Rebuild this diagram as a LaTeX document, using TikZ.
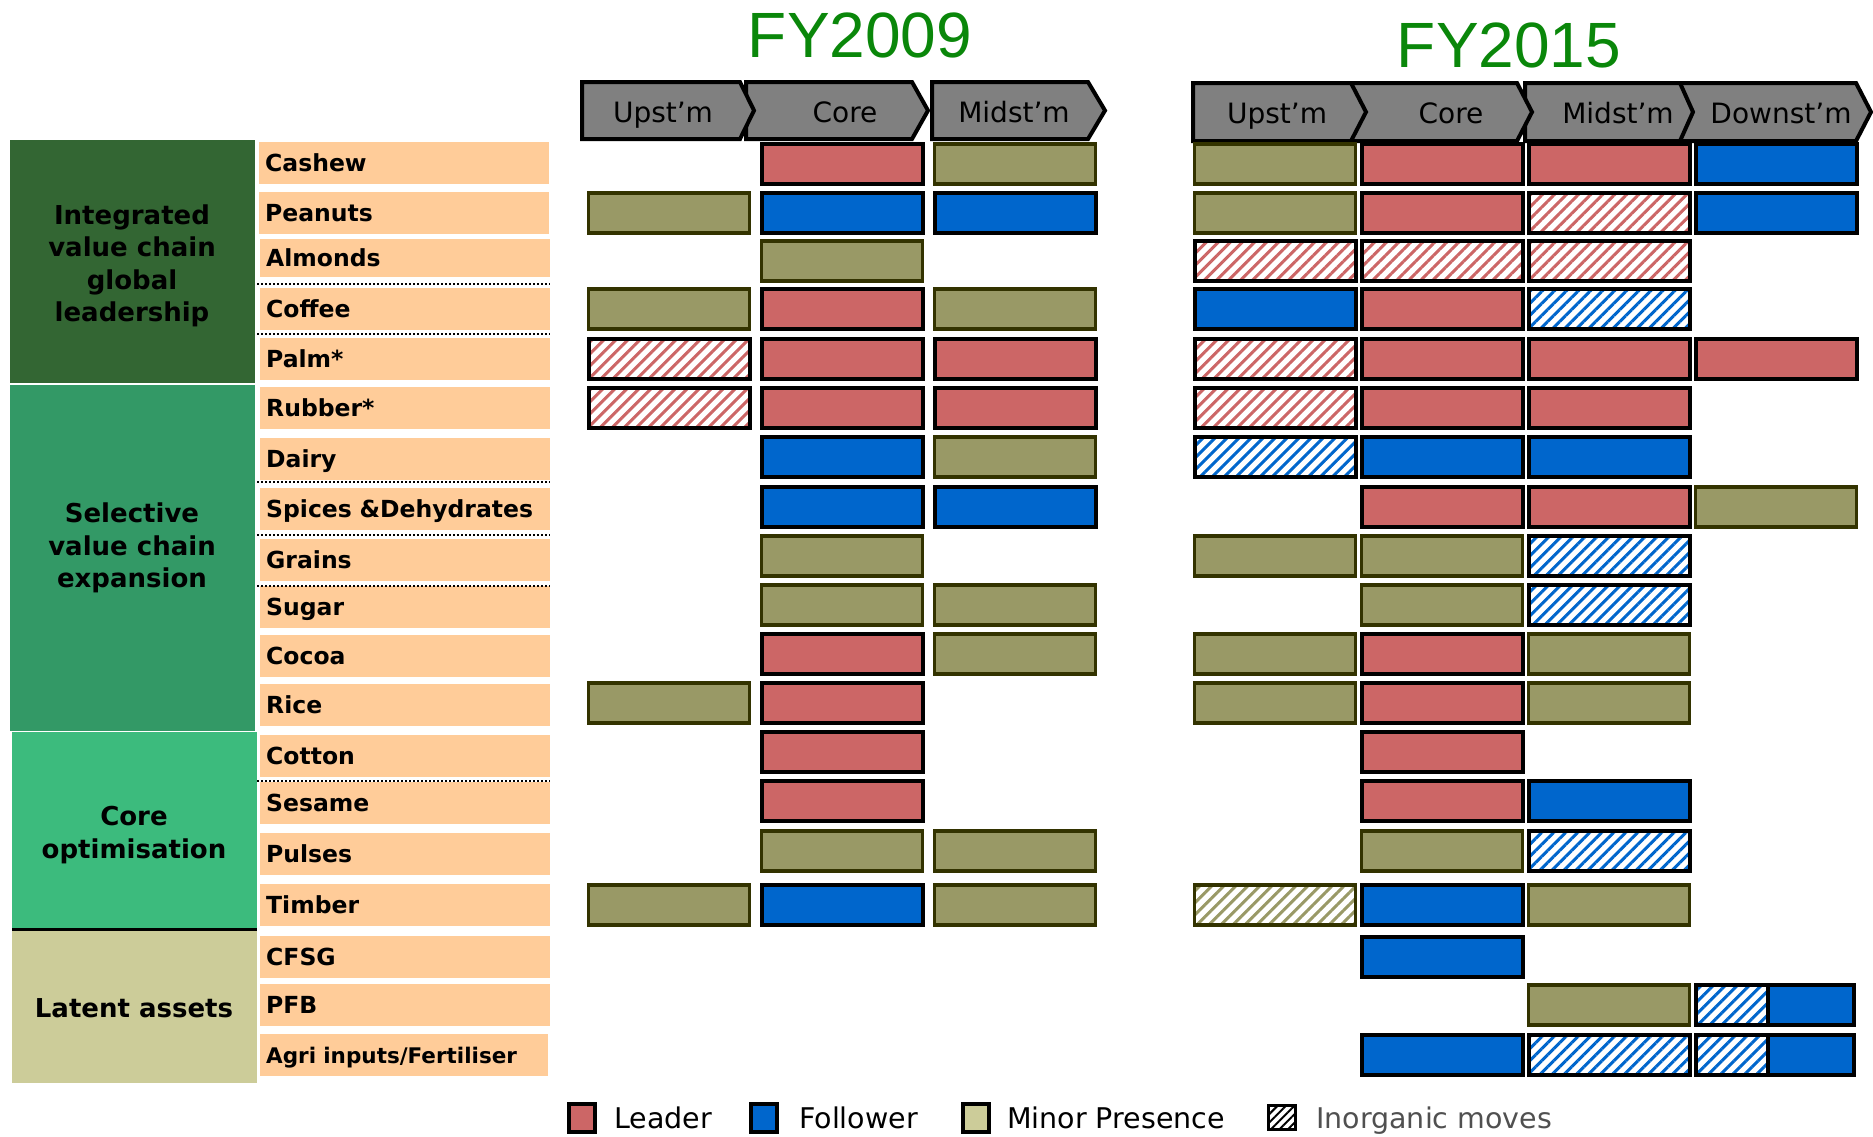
\documentclass[tikz,border=0pt]{standalone}
\usepackage{fontspec}
\setmainfont{DejaVu Sans}
\newfontfamily\arialfont{Liberation Sans}
\usepackage{tikz}
\usetikzlibrary{patterns.meta}

\definecolor{grpone}{HTML}{336633}
\definecolor{grptwo}{HTML}{339966}
\definecolor{grpthree}{HTML}{3CBB7D}
\definecolor{grpfour}{HTML}{CCCC99}
\definecolor{peach}{HTML}{FFCC99}
\definecolor{leadred}{HTML}{CC6666}
\definecolor{follblue}{HTML}{0066CC}
\definecolor{minorol}{HTML}{999966}
\definecolor{minordk}{HTML}{333300}
\definecolor{chevgray}{HTML}{808080}
\definecolor{fygreen}{HTML}{0A870A}
\definecolor{leggray}{HTML}{505050}

\begin{document}
\begin{tikzpicture}[x=1pt, y=-1pt,
	barbox/.style={rectangle, draw=black, line width=4pt, minimum width=161pt, minimum height=40pt, inner sep=0pt},
	leader/.style={barbox, fill=leadred},
	follower/.style={barbox, fill=follblue},
	minor/.style={barbox, fill=minorol, draw=minordk, line width=3.5pt},
	leaderhatch/.style={barbox, pattern={Lines[angle=45,distance=8.5pt,line width=3pt]}, pattern color=leadred},
	followerhatch/.style={barbox, pattern={Lines[angle=45,distance=8.5pt,line width=3pt]}, pattern color=follblue},
	minorhatch/.style={barbox, draw=minordk, line width=3.5pt, pattern={Lines[angle=45,distance=8.5pt,line width=3pt]}, pattern color=minorol},
	cropbox/.style={rectangle, fill=peach, anchor=west, minimum height=42pt, text width=278pt, inner xsep=6pt, inner ysep=0pt, text height=18pt, text depth=1pt, align=left, font=\bfseries\fontsize{23.5}{28}\selectfont},
	grouptext/.style={font=\bfseries\fontsize{26}{32.5}\selectfont, align=center, inner sep=0pt},
	chevron/.style={draw=black, line width=4pt, fill=chevgray, line join=miter},
	chevtext/.style={font=\fontsize{28}{30}\selectfont, anchor=base, inner sep=0pt},
	yeartext/.style={font=\arialfont\fontsize{64}{70}\selectfont, text=fygreen, anchor=base, inner sep=0pt},
	legbox/.style={rectangle, line width=4pt, draw=black, minimum width=26pt, minimum height=28pt, inner sep=0pt},
	legtext/.style={font=\fontsize{28.5}{32}\selectfont, anchor=base west, inner sep=0pt},
	sepline/.style={dotted, line width=2pt}
	]
	\useasboundingbox (0,0) rectangle (1873,1136);

	\fill [grpone] (10,140) rectangle (255,383);
	\fill [grptwo] (10,385) rectangle (255,731);
	\fill [grpthree] (12,732) rectangle (257,928);
	\fill [grpfour] (12,931) rectangle (257,1083);
	\draw [line width=3pt] (12,929.5) -- (257,929.5);

	\node [grouptext] (integrated) at (132,266) {Integrated\\value chain\\global\\leadership};
	\node [grouptext] (selective) at (132,548) {Selective\\value chain\\expansion};
	\node [grouptext] (coreopt) at (134,835) {Core\\optimisation};
	\node [grouptext, anchor=base] (latent) at (134,1017) {Latent assets};

	\node [cropbox] (cashew) at (259,163) {Cashew};
	\node [cropbox] (peanuts) at (259,212.5) {Peanuts};
	\node [cropbox, minimum height=38pt] (almonds) at (260,258) {Almonds};
	\node [cropbox] (coffee) at (260,308.5) {Coffee};
	\node [cropbox] (palm) at (260,358.5) {Palm*};
	\node [cropbox] (rubber) at (260,407.5) {Rubber*};
	\node [cropbox] (dairy) at (260,459) {Dairy};
	\node [cropbox] (spices) at (260,508.5) {Spices \&Dehydrates};
	\node [cropbox] (grains) at (260,560) {Grains};
	\node [cropbox] (sugar) at (260,607) {Sugar};
	\node [cropbox] (cocoa) at (260,656) {Cocoa};
	\node [cropbox] (rice) at (260,705) {Rice};
	\node [cropbox] (cotton) at (260,755.5) {Cotton};
	\node [cropbox] (sesame) at (260,803) {Sesame};
	\node [cropbox] (pulses) at (260,853.5) {Pulses};
	\node [cropbox] (timber) at (260,905) {Timber};
	\node [cropbox] (cfsg) at (260,956.5) {CFSG};
	\node [cropbox] (pfb) at (260,1004.5) {PFB};
	\node [cropbox, text width=276pt, font=\bfseries\fontsize{21.5}{25}\selectfont] (agri) at (260,1054.5) {Agri inputs/Fertiliser};

	\foreach \y in {284,334,482,535,586,781}
		\draw [sepline] (257,\y) -- (550,\y);

	\node [yeartext] (fy09) at (860,57) {FY2009};
	\node [yeartext] (fy15) at (1509,67) {FY2015};

	\draw [chevron] (932,82) -- (1088,82) -- (1105,110.5) -- (1088,139) -- (932,139) -- cycle;
	\draw [chevron] (746,82) -- (912,82) -- (928,110.5) -- (912,139) -- (746,139) -- cycle;
	\draw [chevron] (582,82) -- (740,82) -- (754,110.5) -- (740,139) -- (582,139) -- cycle;
	\draw [chevron] (1680,83) -- (1856,83) -- (1871,112) -- (1856,141) -- (1680,141) -- cycle;
	\draw [chevron] (1525,83) -- (1680,83) -- (1693,112) -- (1680,141) -- (1525,141) -- cycle;
	\draw [chevron] (1351,83) -- (1517,83) -- (1532,112) -- (1517,141) -- (1351,141) -- cycle;
	\draw [chevron] (1193,83) -- (1351,83) -- (1366,112) -- (1351,141) -- (1193,141) -- cycle;

	\node [chevtext] (up09) at (663,122) {Upst’m};
	\node [chevtext] (core09) at (845,122) {Core};
	\node [chevtext] (mid09) at (1014,122) {Midst’m};
	\node [chevtext] (up15) at (1277,123) {Upst’m};
	\node [chevtext] (core15) at (1451,123) {Core};
	\node [chevtext] (mid15) at (1618,123) {Midst’m};
	\node [chevtext] (down15) at (1781,123) {Downst’m};

	\foreach \x/\y/\n in {842/164/cashew09c, 842/309/coffee09c, 842/359/palm09c, 1015/359/palm09m, 842/408/rubber09c, 1015/408/rubber09m, 842/654/cocoa09c, 842/703/rice09c, 842/752/cotton09c, 842/801/sesame09c,
		1442/164/cashew15c, 1609/164/cashew15m, 1442/213/peanuts15c, 1442/309/coffee15c, 1442/359/palm15c, 1609/359/palm15m, 1776/359/palm15d, 1442/408/rubber15c, 1609/408/rubber15m, 1442/507/spices15c, 1609/507/spices15m, 1442/654/cocoa15c, 1442/703/rice15c, 1442/752/cotton15c, 1442/801/sesame15c}
		\node [leader] (\n) at (\x,\y) {};

	\foreach \x/\y/\n in {842/213/peanuts09c, 1015/213/peanuts09m, 842/457/dairy09c, 842/507/spices09c, 1015/507/spices09m, 842/905/timber09c,
		1776/164/cashew15d, 1776/213/peanuts15d, 1275/309/coffee15u, 1442/457/dairy15c, 1609/457/dairy15m, 1609/801/sesame15m, 1442/905/timber15c, 1442/957/cfsg15c, 1442/1055/agri15c}
		\node [follower] (\n) at (\x,\y) {};

	\foreach \x/\y/\n in {1015/164/cashew09m, 669/213/peanuts09u, 842/261/almonds09c, 669/309/coffee09u, 1015/309/coffee09m, 1015/457/dairy09m, 842/556/grains09c, 842/605/sugar09c, 1015/605/sugar09m, 1015/654/cocoa09m, 669/703/rice09u, 842/851/pulses09c, 1015/851/pulses09m, 669/905/timber09u, 1015/905/timber09m,
		1275/164/cashew15u, 1275/213/peanuts15u, 1776/507/spices15d, 1275/556/grains15u, 1442/556/grains15c, 1442/605/sugar15c, 1275/654/cocoa15u, 1609/654/cocoa15m, 1275/703/rice15u, 1609/703/rice15m, 1442/851/pulses15c, 1609/905/timber15m, 1609/1005/pfb15m}
		\node [minor] (\n) at (\x,\y) {};

	\foreach \x/\y/\n in {669/359/palm09u, 669/408/rubber09u, 1609/213/peanuts15m, 1275/261/almonds15u, 1442/261/almonds15c, 1609/261/almonds15m, 1275/359/palm15u, 1275/408/rubber15u}
		\node [leaderhatch] (\n) at (\x,\y) {};

	\foreach \x/\y/\n in {1609/309/coffee15m, 1275/457/dairy15u, 1609/556/grains15m, 1609/605/sugar15m, 1609/851/pulses15m, 1609/1055/agri15m}
		\node [followerhatch] (\n) at (\x,\y) {};

	\node [minorhatch] (timber15u) at (1275,905) {};

	\node [followerhatch, minimum width=72pt] (pfb15dh) at (1732,1005) {};
	\node [follower, minimum width=86pt] (pfb15d) at (1811,1005) {};
	\node [followerhatch, minimum width=72pt] (agri15dh) at (1732,1055) {};
	\node [follower, minimum width=86pt] (agri15d) at (1811,1055) {};

	\node [legbox, fill=leadred] (legleader) at (582,1118) {};
	\node [legtext] (legleadertext) at (614,1128) {Leader};
	\node [legbox, fill=follblue] (legfollower) at (764,1118) {};
	\node [legtext] (legfollowertext) at (799,1128) {Follower};
	\node [legbox, fill=grpfour] (legminor) at (976,1118) {};
	\node [legtext] (legminortext) at (1007,1128) {Minor Presence};
	\node [legbox, line width=3pt, minimum width=27pt, minimum height=24pt, pattern={Lines[angle=45,distance=6pt,line width=2pt]}, pattern color=black] (leginorganic) at (1282,1117) {};
	\node [legtext, text=leggray] (leginorganictext) at (1316,1128) {Inorganic moves};
\end{tikzpicture}
\end{document}
